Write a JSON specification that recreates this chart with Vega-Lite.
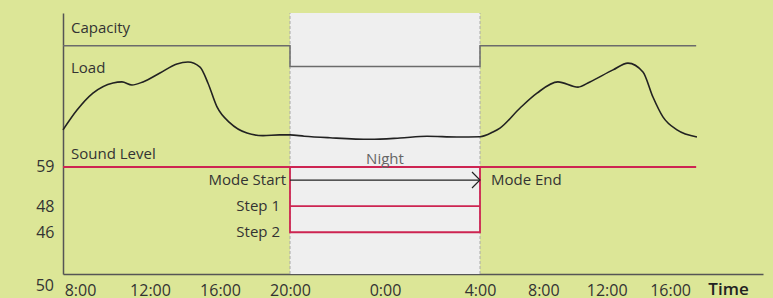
{
  "$schema": "https://vega.github.io/schema/vega-lite/v6.json",
  "width": 700,
  "height": 261,
  "autosize": {"type": "none"},
  "padding": {"left": 63, "top": 13, "right": 10, "bottom": 24},
  "background": "#dce697",
  "config": {
    "view": {"stroke": null},
    "text": {"font": "Open Sans", "fontSize": 15, "color": "#333333"},
    "axis": {"labelFont": "Open Sans", "titleFont": "Open Sans"}
  },
  "datasets": {
    "load": [
      {"t": -0.97, "v": 55.2}, {"t": -0.17, "v": 62.8}, {"t": 0.74, "v": 69.3}, {"t": 1.89, "v": 73.2},
      {"t": 2.40, "v": 73.6}, {"t": 2.97, "v": 72.4}, {"t": 3.60, "v": 73.6}, {"t": 4.57, "v": 77.0},
      {"t": 5.54, "v": 80.5}, {"t": 6.17, "v": 81.2}, {"t": 6.86, "v": 79.3}, {"t": 7.31, "v": 73.2},
      {"t": 7.83, "v": 64.0}, {"t": 8.57, "v": 57.9}, {"t": 9.54, "v": 54.0}, {"t": 10.46, "v": 53.0},
      {"t": 11.4, "v": 53.3}, {"t": 12.0, "v": 53.3}, {"t": 12.6, "v": 52.8}, {"t": 13.68, "v": 52.2},
      {"t": 15.37, "v": 51.6}, {"t": 16.63, "v": 52.1}, {"t": 17.77, "v": 52.8}, {"t": 19.03, "v": 52.5},
      {"t": 20.0, "v": 52.6},
      {"t": 20.82, "v": 54.4}, {"t": 21.26, "v": 55.9}, {"t": 22.53, "v": 63.6}, {"t": 23.60, "v": 69.3},
      {"t": 24.92, "v": 73.6}, {"t": 26.19, "v": 71.6}, {"t": 26.94, "v": 73.6}, {"t": 28.40, "v": 78.2},
      {"t": 29.34, "v": 80.8}, {"t": 30.29, "v": 77.4}, {"t": 30.92, "v": 67.8}, {"t": 31.55, "v": 60.2},
      {"t": 32.44, "v": 55.2}, {"t": 33.70, "v": 52.5}
    ],
    "capacity": [
      {"o": 1, "t": -0.97, "v": 87.5}, {"o": 2, "t": 12, "v": 87.5}, {"o": 3, "t": 12, "v": 79.5},
      {"o": 4, "t": 20, "v": 79.5}, {"o": 5, "t": 20, "v": 87.5}, {"o": 6, "t": 33.65, "v": 87.5}
    ],
    "night": [{"start": 12, "end": 20, "mid": 16, "top": 100, "bottom": 0, "label": "Night", "sound": 41}],
    "borders": [{"t": 12, "top": 100, "bottom": 0}, {"t": 20, "top": 100, "bottom": 0}],
    "sound": [{"t0": -0.97, "t1": 33.65, "v": 41}],
    "mode": [{"t0": 12, "t1": 20, "v0": 16, "v1": 41, "step1": 26, "arrow": 36}],
    "leftLabels": [
      {"t": -0.97, "v": 92.2, "text": "Capacity"},
      {"t": -0.97, "v": 77.1, "text": "Load"},
      {"t": -0.97, "v": 43.9, "text": "Sound Level"}
    ],
    "modeStart": [{"t": 12, "v": 36, "text": "Mode Start"}],
    "steps": [{"t": 12, "v": 26, "text": "Step 1"}, {"t": 12, "v": 16, "text": "Step 2"}],
    "modeEnd": [{"t": 20, "v": 36, "text": "Mode End"}],
    "origin": [{"t": -0.97, "v": 0, "text": "50"}]
  },
  "encoding": {
    "x": {
      "field": "t", "type": "quantitative",
      "scale": {"domain": [-0.97, 12, 20, 37.87], "range": [0, 227, 417, 700], "nice": false, "zero": false},
      "axis": {
        "values": [0, 4, 8, 12, 16, 20, 24, 28, 32],
        "labelExpr": "((8 + datum.value) % 24) + ':00'",
        "grid": false, "ticks": false, "tickSize": 0,
        "labelPadding": 8, "labelFontSize": 16, "labelColor": "#333333",
        "labelFlush": false, "labelOverlap": false,
        "domainColor": "#555555", "domainWidth": 1.5,
        "title": "Time", "titleFontSize": 17, "titleFontWeight": 600, "titleColor": "#222222",
        "titleX": 665, "titleY": 20, "titleAlign": "center", "titleBaseline": "alphabetic"
      }
    },
    "y": {
      "field": "v", "type": "quantitative",
      "scale": {"domain": [0, 100], "nice": false},
      "axis": {
        "values": [41, 26, 16],
        "labelExpr": "datum.value == 41 ? '59' : datum.value == 26 ? '48' : '46'",
        "grid": false, "ticks": false, "tickSize": 0,
        "labelPadding": 9, "labelFontSize": 16, "labelColor": "#333333",
        "labelBaseline": "middle", "labelOverlap": false,
        "domainColor": "#555555", "domainWidth": 1.5,
        "title": null
      }
    }
  },
  "layer": [
    {
      "data": {"name": "night"},
      "mark": {"type": "rect", "color": "#efefef"},
      "encoding": {
        "x": {"field": "start", "type": "quantitative"},
        "x2": {"field": "end"},
        "y": {"field": "bottom", "type": "quantitative"},
        "y2": {"field": "top"}
      }
    },
    {
      "data": {"name": "borders"},
      "mark": {"type": "rule", "color": "#aaaaaa", "strokeDash": [3, 2], "strokeWidth": 1},
      "encoding": {
        "x": {"field": "t", "type": "quantitative"},
        "y": {"field": "bottom", "type": "quantitative"},
        "y2": {"field": "top"}
      }
    },
    {
      "data": {"name": "capacity"},
      "mark": {"type": "line", "color": "#6b6b6b", "strokeWidth": 1.5},
      "encoding": {"order": {"field": "o", "type": "quantitative"}}
    },
    {
      "data": {"name": "load"},
      "mark": {"type": "line", "color": "#222222", "strokeWidth": 1.6, "interpolate": "monotone"},
      "encoding": {}
    },
    {
      "data": {"name": "sound"},
      "mark": {"type": "rule", "color": "#cd2452", "strokeWidth": 2},
      "encoding": {
        "x": {"field": "t0", "type": "quantitative"},
        "x2": {"field": "t1"}
      }
    },
    {
      "data": {"name": "mode"},
      "mark": {"type": "rect", "fill": null, "fillOpacity": 0, "stroke": "#cd2452", "strokeWidth": 1.8},
      "encoding": {
        "x": {"field": "t0", "type": "quantitative"},
        "x2": {"field": "t1"},
        "y": {"field": "v0", "type": "quantitative"},
        "y2": {"field": "v1"}
      }
    },
    {
      "data": {"name": "mode"},
      "mark": {"type": "rule", "color": "#cd2452", "strokeWidth": 1.8},
      "encoding": {
        "x": {"field": "t0", "type": "quantitative"},
        "x2": {"field": "t1"},
        "y": {"field": "step1", "type": "quantitative"}
      }
    },
    {
      "data": {"name": "mode"},
      "mark": {"type": "rule", "color": "#222222", "strokeWidth": 1.2},
      "encoding": {
        "x": {"field": "t0", "type": "quantitative"},
        "x2": {"field": "t1"},
        "y": {"field": "arrow", "type": "quantitative"}
      }
    },
    {
      "data": {"name": "mode"},
      "mark": {"type": "point", "shape": "M-1,-1L0,0L-1,1", "filled": false, "stroke": "#222222", "strokeWidth": 1.2, "size": 256, "opacity": 1},
      "encoding": {
        "x": {"field": "t1", "type": "quantitative"},
        "y": {"field": "arrow", "type": "quantitative"}
      }
    },
    {
      "data": {"name": "leftLabels"},
      "mark": {"type": "text", "align": "left", "baseline": "alphabetic", "dx": 8},
      "encoding": {"text": {"field": "text"}}
    },
    {
      "data": {"name": "modeStart"},
      "mark": {"type": "text", "align": "right", "baseline": "middle", "dx": -4},
      "encoding": {"text": {"field": "text"}}
    },
    {
      "data": {"name": "steps"},
      "mark": {"type": "text", "align": "right", "baseline": "middle", "dx": -10},
      "encoding": {"text": {"field": "text"}}
    },
    {
      "data": {"name": "modeEnd"},
      "mark": {"type": "text", "align": "left", "baseline": "middle", "dx": 11},
      "encoding": {"text": {"field": "text"}}
    },
    {
      "data": {"name": "night"},
      "mark": {"type": "text", "align": "center", "baseline": "alphabetic", "dy": -3, "color": "#666666"},
      "encoding": {
        "x": {"field": "mid", "type": "quantitative"},
        "y": {"field": "sound", "type": "quantitative"},
        "text": {"field": "label"}
      }
    },
    {
      "data": {"name": "origin"},
      "mark": {"type": "text", "align": "right", "baseline": "middle", "dx": -9, "dy": 12, "fontSize": 16},
      "encoding": {"text": {"field": "text"}}
    }
  ]
}
